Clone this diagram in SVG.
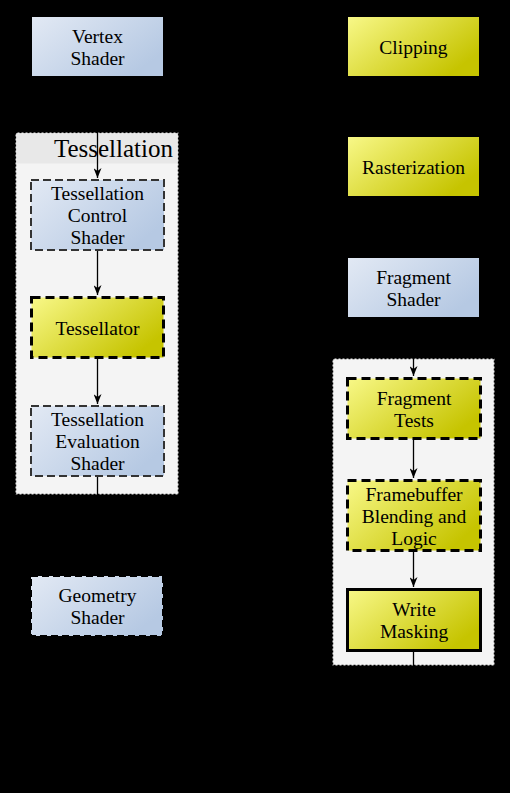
<svg xmlns="http://www.w3.org/2000/svg" width="510" height="793" viewBox="0 0 510 793">
<defs>
<linearGradient id="gBlue" x1="0" y1="0" x2="1" y2="0.6">
<stop offset="0" stop-color="#e2e9f4"/>
<stop offset="1" stop-color="#b6c9e3"/>
</linearGradient>
<linearGradient id="gYel" x1="0" y1="0" x2="1" y2="0.6">
<stop offset="0" stop-color="#f8f888"/>
<stop offset="1" stop-color="#c6c400"/>
</linearGradient>
<marker id="ah" viewBox="0 0 10 8" refX="10" refY="4" markerWidth="10" markerHeight="8" markerUnits="userSpaceOnUse" orient="auto">
<path d="M0,0 L10,4 L0,8 L3,4 z" fill="#000"/>
</marker>
<style>
.t{font-family:"Liberation Serif","Times New Roman",serif;font-size:19.5px;fill:#000;text-anchor:middle}
.hd{font-family:"Liberation Serif","Times New Roman",serif;font-size:25px;fill:#000;text-anchor:end}
.blue{fill:url(#gBlue)}
.yel{fill:url(#gYel)}
.panel{fill:#f4f4f4;stroke:#000;stroke-width:1.5;stroke-dasharray:2 2}
.dgray{stroke:#333;stroke-width:2;stroke-dasharray:8 4}
.dblk{stroke:#000;stroke-width:3;stroke-dasharray:9 5}
.dgeo{stroke:#000;stroke-width:2;stroke-dasharray:7 4}
.solid{stroke:#000;stroke-width:3}
.c{fill:none;stroke:#000;stroke-width:1.3}
</style>
</defs>
<rect x="0" y="0" width="510" height="793" fill="#000"/>

<g id="tess-panel">
<rect class="panel" x="15.5" y="132.5" width="163" height="362"/>
<rect x="16.5" y="133.5" width="161" height="30" fill="#e8e8e8"/>
<text class="hd" x="173" y="157">Tessellation</text>
</g>

<g id="frag-panel">
<rect class="panel" x="332.5" y="358.5" width="162" height="307"/>
</g>

<g id="connectors">
<path class="c" d="M97.5,76 L97.5,178" marker-end="url(#ah)"/>
<path class="c" d="M97.5,251 L97.5,295" marker-end="url(#ah)"/>
<path class="c" d="M97.5,359 L97.5,404" marker-end="url(#ah)"/>
<path class="c" d="M97.5,477 L97.5,575" marker-end="url(#ah)"/>
<path class="c" d="M97.5,636 L97.5,720 L255,720 L255,46.5 L347,46.5" marker-end="url(#ah)"/>
<path class="c" d="M413.5,76 L413.5,136" marker-end="url(#ah)"/>
<path class="c" d="M413.5,196 L413.5,257" marker-end="url(#ah)"/>
<path class="c" d="M413.5,317 L413.5,376" marker-end="url(#ah)"/>
<path class="c" d="M413.5,439 L413.5,478" marker-end="url(#ah)"/>
<path class="c" d="M413.5,552 L413.5,587" marker-end="url(#ah)"/>
<path class="c" d="M413.5,652 L413.5,740"/>
</g>

<g id="vertex-shader">
<rect class="blue" x="32" y="17" width="131" height="59"/>
<text class="t" x="97.5" y="42.5">Vertex</text>
<text class="t" x="97.5" y="64.5">Shader</text>
</g>

<g id="tess-control">
<rect class="blue dgray" x="31" y="180" width="133" height="70"/>
<text class="t" x="97.5" y="200">Tessellation</text>
<text class="t" x="97.5" y="222">Control</text>
<text class="t" x="97.5" y="244">Shader</text>
</g>

<g id="tessellator">
<rect class="yel dblk" x="31.5" y="297.5" width="132" height="60"/>
<text class="t" x="97.5" y="335">Tessellator</text>
</g>

<g id="tess-eval">
<rect class="blue dgray" x="31" y="406" width="133" height="70"/>
<text class="t" x="97.5" y="426">Tessellation</text>
<text class="t" x="97.5" y="448">Evaluation</text>
<text class="t" x="97.5" y="470">Shader</text>
</g>

<g id="geometry-shader">
<rect class="blue dgeo" x="31" y="576" width="132" height="60"/>
<text class="t" x="97.5" y="602">Geometry</text>
<text class="t" x="97.5" y="624">Shader</text>
</g>

<g id="clipping">
<rect class="yel" x="348" y="17" width="131" height="59"/>
<text class="t" x="413.5" y="53.5">Clipping</text>
</g>

<g id="rasterization">
<rect class="yel" x="348" y="137" width="131" height="59"/>
<text class="t" x="413.5" y="173.5">Rasterization</text>
</g>

<g id="fragment-shader">
<rect class="blue" x="348" y="258" width="131" height="59"/>
<text class="t" x="413.5" y="283.5">Fragment</text>
<text class="t" x="413.5" y="305.5">Shader</text>
</g>

<g id="fragment-tests">
<rect class="yel dblk" x="347.5" y="378.5" width="133" height="60"/>
<text class="t" x="414" y="404.5">Fragment</text>
<text class="t" x="414" y="426.5">Tests</text>
</g>

<g id="framebuffer-blending">
<rect class="yel dblk" x="347.5" y="480.5" width="133" height="70"/>
<text class="t" x="414" y="501">Framebuffer</text>
<text class="t" x="414" y="523">Blending and</text>
<text class="t" x="414" y="545">Logic</text>
</g>

<g id="write-masking">
<rect class="yel solid" x="347.5" y="589.5" width="133" height="61"/>
<text class="t" x="414" y="616">Write</text>
<text class="t" x="414" y="638">Masking</text>
</g>
</svg>
